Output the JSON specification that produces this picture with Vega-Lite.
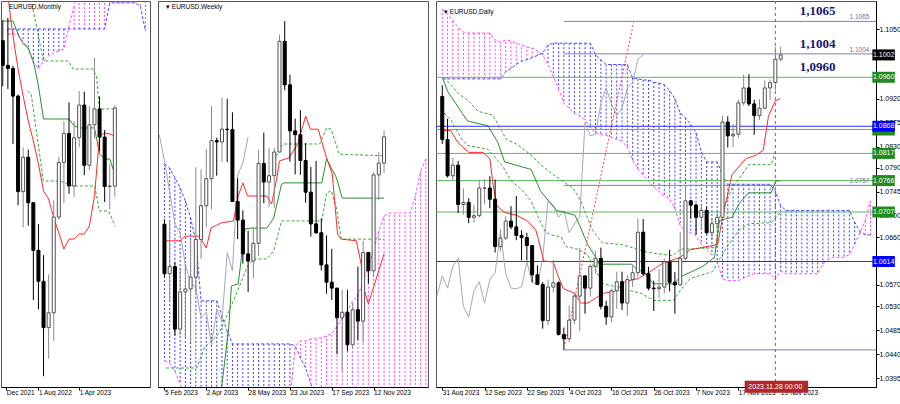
{
"$schema": "https://vega.github.io/schema/vega-lite/v6.json",
"padding": 0,
"bounds": "flush",
"spacing": 8,
"background": "white",
"config": {
  "view": {"stroke": "#555555", "strokeWidth": 1},
  "text": {"font": "Liberation Sans"},
  "axis": {"labelOverlap": false, "labelFlush": false, "labelBound": false, "grid": false}
},
"datasets": {
  "mc": [
    {"i":-1,"o":1.1370,"h":1.1482,"l":1.1121,"c":1.1235},
    {"i":0,"o":1.1235,"h":1.1495,"l":1.1106,"c":1.1218},
    {"i":1,"o":1.1218,"h":1.1233,"l":1.0806,"c":1.1067},
    {"i":2,"o":1.1067,"h":1.1076,"l":1.0471,"c":1.0545},
    {"i":3,"o":1.0545,"h":1.0787,"l":1.0349,"c":1.0733},
    {"i":4,"o":1.0733,"h":1.0774,"l":1.0359,"c":1.0484},
    {"i":5,"o":1.0484,"h":1.0488,"l":0.9952,"c":1.0224},
    {"i":6,"o":1.0224,"h":1.0369,"l":0.9901,"c":1.0055},
    {"i":7,"o":1.0055,"h":1.0198,"l":0.9536,"c":0.9802},
    {"i":8,"o":0.9802,"h":1.0094,"l":0.9632,"c":0.9883},
    {"i":9,"o":0.9883,"h":1.0497,"l":0.9730,"c":1.0406},
    {"i":10,"o":1.0406,"h":1.0736,"l":1.0393,"c":1.0705},
    {"i":11,"o":1.0705,"h":1.0929,"l":1.0482,"c":1.0863},
    {"i":12,"o":1.0863,"h":1.1033,"l":1.0533,"c":1.0576},
    {"i":13,"o":1.0576,"h":1.0930,"l":1.0516,"c":1.0839},
    {"i":14,"o":1.0839,"h":1.1095,"l":1.0788,"c":1.1018},
    {"i":15,"o":1.1018,"h":1.1092,"l":1.0635,"c":1.0689},
    {"i":16,"o":1.0689,"h":1.1012,"l":1.0662,"c":1.0910},
    {"i":17,"o":1.0910,"h":1.1276,"l":1.0834,"c":1.0997},
    {"i":18,"o":1.0997,"h":1.1065,"l":1.0766,"c":1.0843},
    {"i":19,"o":1.0843,"h":1.0882,"l":1.0488,"c":1.0573},
    {"i":20,"o":1.0573,"h":1.0695,"l":1.0448,"c":1.0575},
    {"i":21,"o":1.0575,"h":1.1017,"l":1.0517,"c":1.1002}
  ],
  "mcl": [
    {"i":0,"a":1.1434,"b":1.1406},{"i":1,"a":1.1434,"b":1.1406},{"i":2,"a":1.1434,"b":1.1395},{"i":3,"a":1.1434,"b":1.1368},
    {"i":4,"a":1.1434,"b":1.1324},{"i":5,"a":1.1434,"b":1.1248},{"i":6,"a":1.1434,"b":1.1215},{"i":7,"a":1.1434,"b":1.1259},
    {"i":8,"a":1.1434,"b":1.1286},{"i":9,"a":1.1434,"b":1.1303},{"i":10,"a":1.1434,"b":1.1314},{"i":11,"a":1.1434,"b":1.1324},
    {"i":12,"a":1.1434,"b":1.1450},{"i":13,"a":1.1434,"b":1.1559},{"i":14,"a":1.1434,"b":1.1669},{"i":15,"a":1.1434,"b":1.1669},
    {"i":16,"a":1.1434,"b":1.1669},{"i":17,"a":1.1434,"b":1.1669},{"i":18,"a":1.1434,"b":1.1669},{"i":19,"a":1.1434,"b":1.1669},
    {"i":20,"a":1.1576,"b":1.1669},{"i":21,"a":1.1576,"b":1.1669},{"i":22,"a":1.1576,"b":1.1669},{"i":23,"a":1.1576,"b":1.1669},
    {"i":24,"a":1.1576,"b":1.1669},{"i":25,"a":1.1576,"b":1.1669},{"i":26,"a":1.1559,"b":1.1669},{"i":27,"a":1.1423,"b":1.1669}
  ],
  "mda": [
    {"i":3.85,"v":1.1095},{"i":4.58,"v":1.1078},{"i":5.68,"v":1.0860},{"i":6.96,"v":1.0603},{"i":10.26,"v":1.0603},
    {"i":12.8,"v":1.0576},{"i":17.03,"v":1.0576},{"i":17.6,"v":1.0494},{"i":17.95,"v":1.0439},{"i":19.78,"v":1.0439},{"i":21.06,"v":1.0357}
  ],
  "mdb": [
    {"i":4.2,"v":1.1650},{"i":4.58,"v":1.1587},{"i":5.68,"v":1.1439},{"i":6.96,"v":1.1259},{"i":11.9,"v":1.1259},
    {"i":12.8,"v":1.1215},{"i":16.67,"v":1.1215},{"i":17.4,"v":1.1177},{"i":17.95,"v":1.0997},{"i":20.7,"v":1.0997}
  ],
  "mkj": [
    {"i":-1,"v":1.1477},{"i":0,"v":1.1477},{"i":1,"v":1.1477},{"i":2,"v":1.1406},{"i":3,"v":1.1352},{"i":4,"v":1.1330},
    {"i":5,"v":1.1259},{"i":6,"v":1.1122},{"i":7,"v":1.0942},{"i":8,"v":1.0942},{"i":9,"v":1.0942},{"i":10,"v":1.0942},
    {"i":11,"v":1.0942},{"i":12,"v":1.0942},{"i":13,"v":1.0904},{"i":14,"v":1.0893},{"i":15,"v":1.0893},{"i":16,"v":1.0893},
    {"i":17,"v":1.0893},{"i":18,"v":1.0751},{"i":19,"v":1.0723},{"i":20,"v":1.0723},{"i":21,"v":1.0641}
  ],
  "mtk": [
    {"i":-1,"v":1.1700},{"i":0,"v":1.1614},{"i":1,"v":1.1395},{"i":2,"v":1.1215},{"i":3,"v":1.1068},{"i":4,"v":1.0931},
    {"i":5,"v":1.0822},{"i":6,"v":1.0696},{"i":7,"v":1.0548},{"i":8,"v":1.0505},{"i":9,"v":1.0401},{"i":10,"v":1.0319},
    {"i":11,"v":1.0231},{"i":12,"v":1.0286},{"i":13,"v":1.0286},{"i":14,"v":1.0313},{"i":15,"v":1.0313},{"i":16,"v":1.0357},
    {"i":17,"v":1.0521},{"i":18,"v":1.0849},{"i":19,"v":1.0865},{"i":20,"v":1.0860},{"i":21,"v":1.0849}
  ],
  "wc": [
    {"i":0,"o":1.0795,"h":1.0807,"l":1.0669,"c":1.0678},
    {"i":1,"o":1.0678,"h":1.0805,"l":1.0613,"c":1.0695},
    {"i":2,"o":1.0695,"h":1.0705,"l":1.0532,"c":1.0547},
    {"i":3,"o":1.0547,"h":1.0692,"l":1.0533,"c":1.0635},
    {"i":4,"o":1.0635,"h":1.0701,"l":1.0525,"c":1.0642},
    {"i":5,"o":1.0642,"h":1.0760,"l":1.0516,"c":1.0670},
    {"i":6,"o":1.0670,"h":1.0930,"l":1.0634,"c":1.0759},
    {"i":7,"o":1.0759,"h":1.0925,"l":1.0713,"c":1.0839},
    {"i":8,"o":1.0839,"h":1.0973,"l":1.0788,"c":1.0903},
    {"i":9,"o":1.0903,"h":1.1075,"l":1.0831,"c":1.0993},
    {"i":10,"o":1.0993,"h":1.1000,"l":1.0910,"c":1.0990},
    {"i":11,"o":1.0990,"h":1.1095,"l":1.0943,"c":1.1020},
    {"i":12,"o":1.1020,"h":1.1092,"l":1.0942,"c":1.1019},
    {"i":13,"o":1.1019,"h":1.1060,"l":1.0848,"c":1.0849},
    {"i":14,"o":1.0849,"h":1.0904,"l":1.0760,"c":1.0805},
    {"i":15,"o":1.0805,"h":1.0828,"l":1.0702,"c":1.0725},
    {"i":16,"o":1.0725,"h":1.0780,"l":1.0635,"c":1.0708},
    {"i":17,"o":1.0708,"h":1.0787,"l":1.0667,"c":1.0750},
    {"i":18,"o":1.0750,"h":1.0971,"l":1.0720,"c":1.0939},
    {"i":19,"o":1.0939,"h":1.1012,"l":1.0845,"c":1.0895},
    {"i":20,"o":1.0895,"h":1.0976,"l":1.0835,"c":1.0910},
    {"i":21,"o":1.0910,"h":1.0976,"l":1.0834,"c":1.0966},
    {"i":22,"o":1.0966,"h":1.1244,"l":1.0965,"c":1.1228},
    {"i":23,"o":1.1228,"h":1.1276,"l":1.1112,"c":1.1125},
    {"i":24,"o":1.1125,"h":1.1149,"l":1.0943,"c":1.1016},
    {"i":25,"o":1.1016,"h":1.1045,"l":1.0913,"c":1.1007},
    {"i":26,"o":1.1007,"h":1.1065,"l":1.0912,"c":1.0946},
    {"i":27,"o":1.0946,"h":1.0987,"l":1.0846,"c":1.0871},
    {"i":28,"o":1.0871,"h":1.0931,"l":1.0766,"c":1.0796},
    {"i":29,"o":1.0796,"h":1.0945,"l":1.0772,"c":1.0775},
    {"i":30,"o":1.0775,"h":1.0809,"l":1.0686,"c":1.0699},
    {"i":31,"o":1.0699,"h":1.0769,"l":1.0631,"c":1.0658},
    {"i":32,"o":1.0658,"h":1.0737,"l":1.0616,"c":1.0644},
    {"i":33,"o":1.0644,"h":1.0645,"l":1.0488,"c":1.0574},
    {"i":34,"o":1.0574,"h":1.0640,"l":1.0448,"c":1.0587},
    {"i":35,"o":1.0587,"h":1.0640,"l":1.0495,"c":1.0510},
    {"i":36,"o":1.0510,"h":1.0608,"l":1.0500,"c":1.0593},
    {"i":37,"o":1.0593,"h":1.0695,"l":1.0521,"c":1.0566},
    {"i":38,"o":1.0566,"h":1.0756,"l":1.0516,"c":1.0728},
    {"i":39,"o":1.0728,"h":1.0730,"l":1.0655,"c":1.0685},
    {"i":40,"o":1.0685,"h":1.0918,"l":1.0675,"c":1.0912},
    {"i":41,"o":1.0912,"h":1.0966,"l":1.0852,"c":1.0940},
    {"i":42,"o":1.0940,"h":1.1017,"l":1.0917,"c":1.1002}
  ],
  "wcl": [
    {"i":0,"a":1.0938,"b":1.0472},{"i":1,"a":1.0928,"b":1.0467},{"i":2,"a":1.0905,"b":1.0448},{"i":3,"a":1.0881,"b":1.0417},
    {"i":4,"a":1.0850,"b":1.0389},{"i":5,"a":1.0810,"b":1.0377},{"i":6,"a":1.0756,"b":1.0377},{"i":7,"a":1.0614,"b":1.0377},
    {"i":8,"a":1.0614,"b":1.0377},{"i":9,"a":1.0614,"b":1.0377},{"i":10,"a":1.0614,"b":1.0377},{"i":11,"a":1.0578,"b":1.0377},
    {"i":12,"a":1.0543,"b":1.0377},{"i":13,"a":1.0512,"b":1.0377},{"i":14,"a":1.0512,"b":1.0377},{"i":15,"a":1.0512,"b":1.0377},
    {"i":16,"a":1.0512,"b":1.0377},{"i":17,"a":1.0512,"b":1.0377},{"i":18,"a":1.0512,"b":1.0377},{"i":19,"a":1.0512,"b":1.0377},
    {"i":20,"a":1.0512,"b":1.0377},{"i":21,"a":1.0512,"b":1.0377},{"i":22,"a":1.0512,"b":1.0377},{"i":23,"a":1.0512,"b":1.0377},
    {"i":24,"a":1.0512,"b":1.0377},{"i":25,"a":1.0507,"b":1.0507},{"i":26,"a":1.0479,"b":1.0519},{"i":27,"a":1.0455,"b":1.0519},
    {"i":28,"a":1.0417,"b":1.0524},{"i":29,"a":1.0377,"b":1.0526},{"i":30,"a":1.0353,"b":1.0526},{"i":31,"a":1.0330,"b":1.0531},
    {"i":32,"a":1.0330,"b":1.0536},{"i":33,"a":1.0330,"b":1.0554},{"i":34,"a":1.0330,"b":1.0573},{"i":35,"a":1.0330,"b":1.0590},
    {"i":36,"a":1.0330,"b":1.0614},{"i":37,"a":1.0330,"b":1.0625},{"i":38,"a":1.0330,"b":1.0661},{"i":39,"a":1.0330,"b":1.0696},
    {"i":40,"a":1.0330,"b":1.0732},{"i":41,"a":1.0330,"b":1.0779},{"i":42,"a":1.0330,"b":1.0815},{"i":43,"a":1.0330,"b":1.0822},
    {"i":44,"a":1.0330,"b":1.0822},{"i":45,"a":1.0330,"b":1.0822},{"i":46,"a":1.0330,"b":1.0822},{"i":47,"a":1.0330,"b":1.0822},
    {"i":48,"a":1.0330,"b":1.0862},{"i":49,"a":1.0330,"b":1.0921},{"i":50,"a":1.0330,"b":1.0950}
  ],
  "wchi": [
    {"i":-1,"v":1.1007},{"i":0,"v":1.0946},{"i":1,"v":1.0871},{"i":2,"v":1.0796},{"i":3,"v":1.0775},{"i":4,"v":1.0699},
    {"i":5,"v":1.0658},{"i":6,"v":1.0644},{"i":7,"v":1.0574},{"i":8,"v":1.0587},{"i":9,"v":1.0510},{"i":10,"v":1.0593},
    {"i":11,"v":1.0566},{"i":12,"v":1.0728},{"i":13,"v":1.0685},{"i":14,"v":1.0912},{"i":15,"v":1.0940},{"i":16,"v":1.1002}
  ],
  "wu": [
    {"i":21.1,"v":1.0945},{"i":22.0,"v":1.0976},{"i":22.9,"v":1.0985},{"i":29.7,"v":1.0985},{"i":31.0,"v":1.1023},
    {"i":31.9,"v":1.1020},{"i":33.4,"v":1.0961},{"i":42.0,"v":1.0957}
  ],
  "wl": [
    {"i":0.28,"v":1.0455},{"i":6.17,"v":1.0455},{"i":7.64,"v":1.0503},{"i":10.4,"v":1.0536},{"i":13.2,"v":1.0614},
    {"i":15.9,"v":1.0696},{"i":17.2,"v":1.0713},{"i":19.6,"v":1.0713},{"i":20.9,"v":1.0732},{"i":22.4,"v":1.0803},{"i":30.1,"v":1.0803},
    {"i":31.0,"v":1.0869},{"i":31.9,"v":1.0874},{"i":32.9,"v":1.0834},{"i":33.8,"v":1.0760},{"i":42.0,"v":1.0760}
  ],
  "wkj": [
    {"i":10.5,"v":1.0380},{"i":11.0,"v":1.0417},{"i":12.3,"v":1.0550},{"i":12.8,"v":1.0649},{"i":14.1,"v":1.0654},
    {"i":15.4,"v":1.0784},{"i":16.5,"v":1.0786},{"i":19.6,"v":1.0786},{"i":20.9,"v":1.0810},{"i":22.4,"v":1.0890},
    {"i":22.9,"v":1.0893},{"i":30.1,"v":1.0893},{"i":31.0,"v":1.0950},{"i":32.9,"v":1.0905},{"i":34.0,"v":1.0857},{"i":42.0,"v":1.0857}
  ],
  "wtk": [
    {"i":-0.3,"v":1.0756},{"i":3.04,"v":1.0756},{"i":3.96,"v":1.0767},{"i":6.7,"v":1.0767},{"i":8.0,"v":1.0739},
    {"i":8.9,"v":1.0786},{"i":10.8,"v":1.0798},{"i":13.2,"v":1.0803},{"i":14.1,"v":1.0862},{"i":15.0,"v":1.0893},
    {"i":15.9,"v":1.0862},{"i":19.6,"v":1.0862},{"i":20.5,"v":1.0843},{"i":21.5,"v":1.0905},{"i":22.0,"v":1.0945},
    {"i":23.8,"v":1.0952},{"i":25.5,"v":1.0985},{"i":27.0,"v":1.1051},{"i":27.9,"v":1.1020},{"i":29.4,"v":1.1020},
    {"i":31.0,"v":1.0952},{"i":32.1,"v":1.0914},{"i":33.1,"v":1.0772},{"i":33.8,"v":1.0760},{"i":36.7,"v":1.0756},
    {"i":37.7,"v":1.0696},{"i":38.0,"v":1.0649},{"i":39.0,"v":1.0607},{"i":42.0,"v":1.0725}
  ],
  "dc": [
    {"i":0,"o":1.0924,"h":1.0945,"l":1.0835,"c":1.0843},
    {"i":1,"o":1.0843,"h":1.0882,"l":1.0772,"c":1.0775},
    {"i":2,"o":1.0775,"h":1.0809,"l":1.0767,"c":1.0795},
    {"i":3,"o":1.0795,"h":1.0803,"l":1.0705,"c":1.0721},
    {"i":4,"o":1.0721,"h":1.0751,"l":1.0702,"c":1.0725},
    {"i":5,"o":1.0725,"h":1.0733,"l":1.0686,"c":1.0697},
    {"i":6,"o":1.0697,"h":1.0720,"l":1.0687,"c":1.0700},
    {"i":7,"o":1.0700,"h":1.0766,"l":1.0697,"c":1.0752},
    {"i":8,"o":1.0752,"h":1.0769,"l":1.0721,"c":1.0752},
    {"i":9,"o":1.0752,"h":1.0774,"l":1.0714,"c":1.0731},
    {"i":10,"o":1.0731,"h":1.0768,"l":1.0631,"c":1.0642},
    {"i":11,"o":1.0642,"h":1.0675,"l":1.0633,"c":1.0658},
    {"i":12,"o":1.0658,"h":1.0699,"l":1.0654,"c":1.0690},
    {"i":13,"o":1.0690,"h":1.0718,"l":1.0675,"c":1.0679},
    {"i":14,"o":1.0679,"h":1.0737,"l":1.0654,"c":1.0663},
    {"i":15,"o":1.0663,"h":1.0673,"l":1.0616,"c":1.0659},
    {"i":16,"o":1.0659,"h":1.0668,"l":1.0616,"c":1.0644},
    {"i":17,"o":1.0644,"h":1.0645,"l":1.0575,"c":1.0589},
    {"i":18,"o":1.0589,"h":1.0607,"l":1.0570,"c":1.0571},
    {"i":19,"o":1.0571,"h":1.0575,"l":1.0488,"c":1.0503},
    {"i":20,"o":1.0503,"h":1.0580,"l":1.0495,"c":1.0566},
    {"i":21,"o":1.0566,"h":1.0617,"l":1.0556,"c":1.0574},
    {"i":22,"o":1.0574,"h":1.0577,"l":1.0475,"c":1.0477},
    {"i":23,"o":1.0477,"h":1.0490,"l":1.0448,"c":1.0469},
    {"i":24,"o":1.0469,"h":1.0531,"l":1.0462,"c":1.0504},
    {"i":25,"o":1.0504,"h":1.0555,"l":1.0496,"c":1.0549},
    {"i":26,"o":1.0549,"h":1.0640,"l":1.0483,"c":1.0587},
    {"i":27,"o":1.0587,"h":1.0588,"l":1.0516,"c":1.0564},
    {"i":28,"o":1.0564,"h":1.0608,"l":1.0548,"c":1.0605},
    {"i":29,"o":1.0605,"h":1.0634,"l":1.0591,"c":1.0620},
    {"i":30,"o":1.0620,"h":1.0640,"l":1.0524,"c":1.0530},
    {"i":31,"o":1.0530,"h":1.0540,"l":1.0495,"c":1.0510},
    {"i":32,"o":1.0510,"h":1.0563,"l":1.0500,"c":1.0559},
    {"i":33,"o":1.0559,"h":1.0595,"l":1.0525,"c":1.0576},
    {"i":34,"o":1.0576,"h":1.0595,"l":1.0523,"c":1.0536},
    {"i":35,"o":1.0536,"h":1.0588,"l":1.0512,"c":1.0580},
    {"i":36,"o":1.0580,"h":1.0608,"l":1.0566,"c":1.0593},
    {"i":37,"o":1.0593,"h":1.0695,"l":1.0585,"c":1.0669},
    {"i":38,"o":1.0669,"h":1.0694,"l":1.0588,"c":1.0591},
    {"i":39,"o":1.0591,"h":1.0604,"l":1.0560,"c":1.0564},
    {"i":40,"o":1.0564,"h":1.0578,"l":1.0521,"c":1.0563},
    {"i":41,"o":1.0563,"h":1.0600,"l":1.0545,"c":1.0566},
    {"i":42,"o":1.0566,"h":1.0620,"l":1.0554,"c":1.0613},
    {"i":43,"o":1.0613,"h":1.0636,"l":1.0558,"c":1.0575},
    {"i":44,"o":1.0575,"h":1.0594,"l":1.0516,"c":1.0570},
    {"i":45,"o":1.0570,"h":1.0669,"l":1.0568,"c":1.0620},
    {"i":46,"o":1.0620,"h":1.0756,"l":1.0617,"c":1.0728},
    {"i":47,"o":1.0728,"h":1.0730,"l":1.0695,"c":1.0720},
    {"i":48,"o":1.0720,"h":1.0723,"l":1.0665,"c":1.0697},
    {"i":49,"o":1.0697,"h":1.0720,"l":1.0673,"c":1.0710},
    {"i":50,"o":1.0710,"h":1.0717,"l":1.0665,"c":1.0668},
    {"i":51,"o":1.0668,"h":1.0696,"l":1.0655,"c":1.0685},
    {"i":52,"o":1.0685,"h":1.0710,"l":1.0675,"c":1.0697},
    {"i":53,"o":1.0697,"h":1.0888,"l":1.0696,"c":1.0876},
    {"i":54,"o":1.0876,"h":1.0887,"l":1.0828,"c":1.0850},
    {"i":55,"o":1.0850,"h":1.0872,"l":1.0829,"c":1.0853},
    {"i":56,"o":1.0853,"h":1.0918,"l":1.0846,"c":1.0912},
    {"i":57,"o":1.0912,"h":1.0965,"l":1.0907,"c":1.0940},
    {"i":58,"o":1.0940,"h":1.0966,"l":1.0906,"c":1.0910},
    {"i":59,"o":1.0910,"h":1.0918,"l":1.0852,"c":1.0888},
    {"i":60,"o":1.0888,"h":1.0919,"l":1.0880,"c":1.0902},
    {"i":61,"o":1.0902,"h":1.0954,"l":1.0900,"c":1.0940},
    {"i":62,"o":1.0940,"h":1.0956,"l":1.0917,"c":1.0950},
    {"i":63,"o":1.0950,"h":1.1017,"l":1.0935,"c":1.0994},
    {"i":64,"o":1.0994,"h":1.1017,"l":1.0990,"c":1.1002}
  ],
  "dcl": [
    {"i":0,"a":1.0957,"b":1.1088},{"i":1,"a":1.0957,"b":1.1079},{"i":2,"a":1.0957,"b":1.1066},{"i":3,"a":1.0957,"b":1.1054},
    {"i":4,"a":1.0957,"b":1.1045},{"i":5,"a":1.0957,"b":1.1043},{"i":6,"a":1.0957,"b":1.1043},{"i":7,"a":1.0957,"b":1.1043},
    {"i":8,"a":1.0957,"b":1.1043},{"i":9,"a":1.0957,"b":1.1043},{"i":10,"a":1.0957,"b":1.1030},{"i":11,"a":1.0957,"b":1.1026},
    {"i":12,"a":1.0970,"b":1.1030},{"i":13,"a":1.0977,"b":1.1028},{"i":14,"a":1.0984,"b":1.1024},{"i":15,"a":1.0990,"b":1.1021},
    {"i":16,"a":1.0993,"b":1.1017},{"i":17,"a":1.0997,"b":1.1015},{"i":18,"a":1.1001,"b":1.1010},{"i":19,"a":1.1006,"b":1.1002},
    {"i":20,"a":1.1021,"b":1.0984},{"i":21,"a":1.1024,"b":1.0962},{"i":22,"a":1.1024,"b":1.0938},{"i":23,"a":1.1024,"b":1.0911},
    {"i":24,"a":1.1024,"b":1.0902},{"i":25,"a":1.1024,"b":1.0893},{"i":26,"a":1.1024,"b":1.0887},{"i":27,"a":1.1024,"b":1.0880},
    {"i":28,"a":1.1024,"b":1.0865},{"i":29,"a":1.1002,"b":1.0856},{"i":30,"a":1.0993,"b":1.0852},{"i":31,"a":1.0984,"b":1.0851},
    {"i":32,"a":1.0984,"b":1.0847},{"i":33,"a":1.0984,"b":1.0843},{"i":34,"a":1.0984,"b":1.0840},{"i":35,"a":1.0984,"b":1.0829},
    {"i":36,"a":1.0959,"b":1.0805},{"i":37,"a":1.0957,"b":1.0787},{"i":38,"a":1.0955,"b":1.0776},{"i":39,"a":1.0955,"b":1.0765},
    {"i":40,"a":1.0951,"b":1.0754},{"i":41,"a":1.0949,"b":1.0746},{"i":42,"a":1.0946,"b":1.0737},{"i":43,"a":1.0935,"b":1.0732},
    {"i":44,"a":1.0920,"b":1.0713},{"i":45,"a":1.0893,"b":1.0682},{"i":46,"a":1.0884,"b":1.0670},{"i":47,"a":1.0871,"b":1.0668},
    {"i":48,"a":1.0856,"b":1.0662},{"i":49,"a":1.0820,"b":1.0646},{"i":50,"a":1.0801,"b":1.0637},{"i":51,"a":1.0801,"b":1.0626},
    {"i":52,"a":1.0801,"b":1.0614},{"i":53,"a":1.0777,"b":1.0581},{"i":54,"a":1.0759,"b":1.0578},{"i":55,"a":1.0759,"b":1.0578},
    {"i":56,"a":1.0759,"b":1.0578},{"i":57,"a":1.0759,"b":1.0583},{"i":58,"a":1.0759,"b":1.0587},{"i":59,"a":1.0759,"b":1.0591},
    {"i":60,"a":1.0759,"b":1.0591},{"i":61,"a":1.0759,"b":1.0591},{"i":62,"a":1.0759,"b":1.0591},{"i":63,"a":1.0746,"b":1.0581},
    {"i":64,"a":1.0719,"b":1.0596},{"i":65,"a":1.0710,"b":1.0591},{"i":66,"a":1.0710,"b":1.0591},{"i":67,"a":1.0710,"b":1.0591},
    {"i":68,"a":1.0710,"b":1.0591},{"i":69,"a":1.0710,"b":1.0591},{"i":70,"a":1.0710,"b":1.0591},{"i":71,"a":1.0710,"b":1.0591},
    {"i":72,"a":1.0710,"b":1.0609},{"i":73,"a":1.0710,"b":1.0618},{"i":74,"a":1.0710,"b":1.0622},{"i":75,"a":1.0710,"b":1.0622},
    {"i":76,"a":1.0710,"b":1.0622},{"i":77,"a":1.0710,"b":1.0627},{"i":78,"a":1.0688,"b":1.0646},{"i":79,"a":1.0670,"b":1.0668},
    {"i":80,"a":1.0664,"b":1.0691},{"i":81,"a":1.0664,"b":1.0728}
  ],
  "dchi": [
    {"i":-1,"v":1.0549},{"i":0,"v":1.0587},{"i":1,"v":1.0564},{"i":2,"v":1.0605},{"i":3,"v":1.0620},{"i":4,"v":1.0530},
    {"i":5,"v":1.0510},{"i":6,"v":1.0559},{"i":7,"v":1.0576},{"i":8,"v":1.0536},{"i":9,"v":1.0580},{"i":10,"v":1.0593},
    {"i":11,"v":1.0669},{"i":12,"v":1.0591},{"i":13,"v":1.0564},{"i":14,"v":1.0563},{"i":15,"v":1.0566},{"i":16,"v":1.0613},
    {"i":17,"v":1.0575},{"i":18,"v":1.0570},{"i":19,"v":1.0620},{"i":20,"v":1.0728},{"i":21,"v":1.0720},{"i":22,"v":1.0697},
    {"i":23,"v":1.0710},{"i":24,"v":1.0668},{"i":25,"v":1.0685},{"i":26,"v":1.0697},{"i":27,"v":1.0876},{"i":28,"v":1.0850},
    {"i":29,"v":1.0853},{"i":30,"v":1.0912},{"i":31,"v":1.0940},{"i":32,"v":1.0910},{"i":33,"v":1.0888},{"i":34,"v":1.0902},
    {"i":35,"v":1.0940},{"i":36,"v":1.0950},{"i":37,"v":1.0994},{"i":38,"v":1.1002}
  ],
  "du": [
    {"i":0.31,"v":1.0960},{"i":1.98,"v":1.0942},{"i":3.09,"v":1.0929},{"i":4.94,"v":1.0916},{"i":6.78,"v":1.0896},
    {"i":9.56,"v":1.0889},{"i":11.22,"v":1.0860},{"i":12.14,"v":1.0843},{"i":14.18,"v":1.0834},{"i":16.77,"v":1.0814},
    {"i":18.61,"v":1.0796},{"i":21.02,"v":1.0777},{"i":24.71,"v":1.0752},{"i":26.19,"v":1.0728},{"i":28.41,"v":1.0673},
    {"i":30.26,"v":1.0649},{"i":33.96,"v":1.0646},{"i":38.95,"v":1.0631},{"i":43.57,"v":1.0625},{"i":45.05,"v":1.0637},
    {"i":51.89,"v":1.0640},{"i":52.44,"v":1.0697},{"i":54.84,"v":1.0752},{"i":56.69,"v":1.0777},{"i":57.98,"v":1.0796},
    {"i":62.24,"v":1.0796},{"i":63.16,"v":1.0825}
  ],
  "dl": [
    {"i":0.31,"v":1.0893},{"i":1.61,"v":1.0880},{"i":3.46,"v":1.0847},{"i":4.75,"v":1.0832},{"i":8.63,"v":1.0825},
    {"i":9.93,"v":1.0810},{"i":11.22,"v":1.0796},{"i":13.07,"v":1.0765},{"i":14.92,"v":1.0750},{"i":16.77,"v":1.0728},
    {"i":18.25,"v":1.0695},{"i":19.54,"v":1.0669},{"i":20.65,"v":1.0664},{"i":22.5,"v":1.0660},{"i":23.42,"v":1.0642},
    {"i":25.64,"v":1.0637},{"i":27.49,"v":1.0627},{"i":30.26,"v":1.0573},{"i":37.65,"v":1.0554},{"i":40.05,"v":1.0541},
    {"i":43.75,"v":1.0541},{"i":45.05,"v":1.0560},{"i":46.9,"v":1.0582},{"i":51.15,"v":1.0595},{"i":52.44,"v":1.0618},
    {"i":54.28,"v":1.0648},{"i":56.13,"v":1.0673},{"i":57.98,"v":1.0685},{"i":62.24,"v":1.0687},{"i":63.9,"v":1.0706}
  ],
  "dkj": [
    {"i":0.13,"v":1.0957},{"i":1.05,"v":1.0933},{"i":2.53,"v":1.0911},{"i":4.75,"v":1.0878},{"i":8.63,"v":1.0869},
    {"i":10.5,"v":1.0838},{"i":11.8,"v":1.0801},{"i":16.8,"v":1.0787},{"i":18.6,"v":1.0746},{"i":20.1,"v":1.0728},
    {"i":21.6,"v":1.0710},{"i":25.1,"v":1.0701},{"i":26.2,"v":1.0677},{"i":27.5,"v":1.0646},{"i":29.0,"v":1.0622},
    {"i":29.7,"v":1.0609},{"i":35.8,"v":1.0609},{"i":36.7,"v":1.0600},{"i":38.2,"v":1.0594},{"i":39.9,"v":1.0572},
    {"i":43.8,"v":1.0572},{"i":45.0,"v":1.0585},{"i":47.4,"v":1.0596},{"i":49.3,"v":1.0605},{"i":51.5,"v":1.0622},
    {"i":52.4,"v":1.0691},{"i":54.8,"v":1.0697},{"i":56.1,"v":1.0722},{"i":57.9,"v":1.0743},{"i":62.2,"v":1.0743},
    {"i":63.1,"v":1.0765},{"i":64,"v":1.0766}
  ],
  "dtk": [
    {"i":0.1,"v":1.0860},{"i":1.6,"v":1.0860},{"i":2.9,"v":1.0838},{"i":5.0,"v":1.0819},{"i":7.7,"v":1.0819},
    {"i":9.0,"v":1.0807},{"i":9.6,"v":1.0759},{"i":10.3,"v":1.0719},{"i":11.8,"v":1.0706},{"i":14.0,"v":1.0701},
    {"i":16.0,"v":1.0691},{"i":17.7,"v":1.0673},{"i":18.2,"v":1.0655},{"i":19.2,"v":1.0615},{"i":21.0,"v":1.0613},
    {"i":21.9,"v":1.0587},{"i":22.9,"v":1.0563},{"i":25.1,"v":1.0554},{"i":26.2,"v":1.0536},{"i":27.5,"v":1.0536},
    {"i":29.0,"v":1.0545},{"i":30.3,"v":1.0554},{"i":32.7,"v":1.0558},{"i":34.5,"v":1.0576},{"i":37.1,"v":1.0582},
    {"i":39.5,"v":1.0596},{"i":41.4,"v":1.0609},{"i":45.0,"v":1.0622},{"i":46.9,"v":1.0636},{"i":52.1,"v":1.0646},
    {"i":53.0,"v":1.0697},{"i":54.8,"v":1.0777},{"i":57.4,"v":1.0807},{"i":59.4,"v":1.0814},{"i":60.7,"v":1.0823},
    {"i":61.7,"v":1.0887},{"i":63.0,"v":1.0916},{"i":63.9,"v":1.0920}
  ],
  "dlev": [
    {"p":1.0960,"k":"green"},{"p":1.0862,"k":"green"},{"p":1.0868,"k":"blue"},{"p":1.0817,"k":"green"},
    {"p":1.0766,"k":"green"},{"p":1.0707,"k":"green"},{"p":1.0614,"k":"blue"}
  ],
  "dray": [
    {"p":1.1065,"i":23},{"p":1.1004,"i":23},{"p":1.0757,"i":23},{"p":1.0448,"i":23}
  ],
  "dtr": [
    {"i":23.2,"v":1.0459},{"i":36.2,"v":1.1063}
  ],
  "dbig": [
    {"t":"1,1065","p":1.1065},{"t":"1,1004","p":1.1004},{"t":"1,0960","p":1.0960}
  ],
  "dsmall": [
    {"t":"1.1065","p":1.1065},{"t":"1.1004","p":1.1004},{"t":"1.0757","p":1.0757}
  ],
  "dbox": [
    {"t":"1.1002","p":1.1002,"k":"black"},{"t":"1.0960","p":1.0960,"k":"green"},{"t":"","p":1.0861,"k":"green"},
    {"t":"1.0868","p":1.0868,"k":"blue"},{"t":"1.0817","p":1.0817,"k":"green"},{"t":"1.0766","p":1.0766,"k":"green"},
    {"t":"1.0707","p":1.0707,"k":"green"},{"t":"1.0614","p":1.0614,"k":"blue"}
  ],
  "dcur": [
    {"i":63,"t":"2023.11.28 00:00"}
  ],
  "mtitle": [{"t":"EURUSD,Monthly"}],
  "wtitle": [{"t":"▾ EURUSD,Weekly"}],
  "dtitle": [{"t":"▾ EURUSD,Daily"}]
},
"hconcat": [
  {
    "width": 149, "height": 386,
    "resolve": {"axis": {"x": "independent", "y": "independent"}},
    "layer": [
      {"data": {"name": "mcl"}, "mark": {"type": "rule", "strokeDash": [2, 2], "strokeWidth": 1, "clip": true},
       "encoding": {
         "x": {"field": "i", "type": "quantitative", "scale": {"domain": [-0.37, 26.92], "nice": false, "zero": false}, "axis": null},
         "y": {"field": "a", "type": "quantitative", "scale": {"domain": [0.94774, 1.15867], "nice": false, "zero": false}, "axis": null},
         "y2": {"field": "b"},
         "color": {"condition": {"test": "datum.a > datum.b", "value": "#3c3cff"}, "value": "#ff3cff"}}},
      {"data": {"name": "mcl"}, "mark": {"type": "line", "strokeDash": [3, 2], "strokeWidth": 1, "color": "#4a4aff", "clip": true},
       "encoding": {
         "x": {"field": "i", "type": "quantitative", "scale": {"domain": [-0.37, 26.92], "nice": false, "zero": false}, "axis": null},
         "y": {"field": "a", "type": "quantitative", "scale": {"domain": [0.94774, 1.15867], "nice": false, "zero": false}, "axis": null}}},
      {"data": {"name": "mcl"}, "mark": {"type": "line", "strokeDash": [3, 2], "strokeWidth": 1, "color": "#ff4aff", "clip": true},
       "encoding": {
         "x": {"field": "i", "type": "quantitative", "scale": {"domain": [-0.37, 26.92], "nice": false, "zero": false}, "axis": null},
         "y": {"field": "b", "type": "quantitative", "scale": {"domain": [0.94774, 1.15867], "nice": false, "zero": false}, "axis": null}}},
      {"data": {"name": "mda"}, "mark": {"type": "line", "strokeDash": [3, 2], "strokeWidth": 1, "color": "#3aa83a", "clip": true},
       "encoding": {
         "x": {"field": "i", "type": "quantitative", "scale": {"domain": [-0.37, 26.92], "nice": false, "zero": false}, "axis": null},
         "y": {"field": "v", "type": "quantitative", "scale": {"domain": [0.94774, 1.15867], "nice": false, "zero": false}, "axis": null}}},
      {"data": {"name": "mdb"}, "mark": {"type": "line", "strokeDash": [3, 2], "strokeWidth": 1, "color": "#3aa83a", "clip": true},
       "encoding": {
         "x": {"field": "i", "type": "quantitative", "scale": {"domain": [-0.37, 26.92], "nice": false, "zero": false}, "axis": null},
         "y": {"field": "v", "type": "quantitative", "scale": {"domain": [0.94774, 1.15867], "nice": false, "zero": false}, "axis": null}}},
      {"data": {"name": "mkj"}, "mark": {"type": "line", "strokeWidth": 1, "color": "#2a8f2a", "clip": true},
       "encoding": {
         "x": {"field": "i", "type": "quantitative", "scale": {"domain": [-0.37, 26.92], "nice": false, "zero": false}, "axis": null},
         "y": {"field": "v", "type": "quantitative", "scale": {"domain": [0.94774, 1.15867], "nice": false, "zero": false}, "axis": null}}},
      {"data": {"name": "mtk"}, "mark": {"type": "line", "strokeWidth": 1, "color": "#ff2a2a", "clip": true},
       "encoding": {
         "x": {"field": "i", "type": "quantitative", "scale": {"domain": [-0.37, 26.92], "nice": false, "zero": false}, "axis": null},
         "y": {"field": "v", "type": "quantitative", "scale": {"domain": [0.94774, 1.15867], "nice": false, "zero": false}, "axis": null}}},
      {"data": {"name": "mc"}, "mark": {"type": "rule", "strokeWidth": 1, "clip": true},
       "encoding": {
         "x": {"field": "i", "type": "quantitative", "scale": {"domain": [-0.37, 26.92], "nice": false, "zero": false}, "axis": null},
         "y": {"field": "l", "type": "quantitative", "scale": {"domain": [0.94774, 1.15867], "nice": false, "zero": false}, "axis": null},
         "y2": {"field": "h"},
         "color": {"condition": {"test": "datum.c >= datum.o", "value": "#8a8a8a"}, "value": "#000000"}}},
      {"data": {"name": "mc"}, "mark": {"type": "bar", "orient": "vertical", "size": 3, "strokeWidth": 1, "clip": true},
       "encoding": {
         "x": {"field": "i", "type": "quantitative", "scale": {"domain": [-0.37, 26.92], "nice": false, "zero": false},
               "axis": {"values": [-0.3, 6, 14], "labelExpr": "datum.value < 0 ? 'Dec 2021' : datum.value == 6 ? '1 Aug 2022' : '1 Apr 2023'",
                        "labelAlign": "left", "labelBaseline": "top", "labelPadding": -1, "labelFontSize": 6.5, "labelFont": "Liberation Sans", "labelColor": "#000000",
                        "tickSize": 3, "tickColor": "#000000", "domainColor": "#000000", "grid": false, "title": null,
                        "labelOverlap": false, "labelFlush": false, "labelBound": false}},
         "y": {"field": "o", "type": "quantitative", "scale": {"domain": [0.94774, 1.15867], "nice": false, "zero": false}, "axis": null},
         "y2": {"field": "c"},
         "fill": {"condition": {"test": "datum.c >= datum.o", "value": "#ffffff"}, "value": "#000000"},
         "stroke": {"condition": {"test": "datum.c >= datum.o", "value": "#505050"}, "value": "#000000"}}},
      {"data": {"name": "mtitle"}, "mark": {"type": "text", "fontSize": 6.5, "color": "#000000", "align": "left", "baseline": "top", "dx": 3, "dy": 3},
       "encoding": {
         "x": {"datum": -0.37, "type": "quantitative", "scale": {"domain": [-0.37, 26.92], "nice": false, "zero": false}, "axis": null},
         "y": {"datum": 1.15867, "type": "quantitative", "scale": {"domain": [0.94774, 1.15867], "nice": false, "zero": false}, "axis": null},
         "text": {"field": "t"}}}
    ]
  },
  {
    "width": 270, "height": 386,
    "resolve": {"axis": {"x": "independent", "y": "independent"}},
    "layer": [
      {"data": {"name": "wcl"}, "mark": {"type": "rule", "strokeDash": [2, 2], "strokeWidth": 1, "clip": true},
       "encoding": {
         "x": {"field": "i", "type": "quantitative", "scale": {"domain": [-0.28, 49.45], "nice": false, "zero": false}, "axis": null},
         "y": {"field": "a", "type": "quantitative", "scale": {"domain": [1.04101, 1.13233], "nice": false, "zero": false}, "axis": null},
         "y2": {"field": "b"},
         "color": {"condition": {"test": "datum.a > datum.b", "value": "#3c3cff"}, "value": "#ff3cff"}}},
      {"data": {"name": "wcl"}, "mark": {"type": "line", "strokeDash": [3, 2], "strokeWidth": 1, "color": "#4a4aff", "clip": true},
       "encoding": {
         "x": {"field": "i", "type": "quantitative", "scale": {"domain": [-0.28, 49.45], "nice": false, "zero": false}, "axis": null},
         "y": {"field": "a", "type": "quantitative", "scale": {"domain": [1.04101, 1.13233], "nice": false, "zero": false}, "axis": null}}},
      {"data": {"name": "wcl"}, "mark": {"type": "line", "strokeDash": [3, 2], "strokeWidth": 1, "color": "#ff4aff", "clip": true},
       "encoding": {
         "x": {"field": "i", "type": "quantitative", "scale": {"domain": [-0.28, 49.45], "nice": false, "zero": false}, "axis": null},
         "y": {"field": "b", "type": "quantitative", "scale": {"domain": [1.04101, 1.13233], "nice": false, "zero": false}, "axis": null}}},
      {"data": {"name": "wchi"}, "mark": {"type": "line", "strokeWidth": 1, "color": "#a4a8bc", "clip": true},
       "encoding": {
         "x": {"field": "i", "type": "quantitative", "scale": {"domain": [-0.28, 49.45], "nice": false, "zero": false}, "axis": null},
         "y": {"field": "v", "type": "quantitative", "scale": {"domain": [1.04101, 1.13233], "nice": false, "zero": false}, "axis": null}}},
      {"data": {"name": "wu"}, "mark": {"type": "line", "strokeDash": [3, 2], "strokeWidth": 1, "color": "#3aa83a", "clip": true},
       "encoding": {
         "x": {"field": "i", "type": "quantitative", "scale": {"domain": [-0.28, 49.45], "nice": false, "zero": false}, "axis": null},
         "y": {"field": "v", "type": "quantitative", "scale": {"domain": [1.04101, 1.13233], "nice": false, "zero": false}, "axis": null}}},
      {"data": {"name": "wl"}, "mark": {"type": "line", "strokeDash": [3, 2], "strokeWidth": 1, "color": "#3aa83a", "clip": true},
       "encoding": {
         "x": {"field": "i", "type": "quantitative", "scale": {"domain": [-0.28, 49.45], "nice": false, "zero": false}, "axis": null},
         "y": {"field": "v", "type": "quantitative", "scale": {"domain": [1.04101, 1.13233], "nice": false, "zero": false}, "axis": null}}},
      {"data": {"name": "wkj"}, "mark": {"type": "line", "strokeWidth": 1, "color": "#2a8f2a", "clip": true},
       "encoding": {
         "x": {"field": "i", "type": "quantitative", "scale": {"domain": [-0.28, 49.45], "nice": false, "zero": false}, "axis": null},
         "y": {"field": "v", "type": "quantitative", "scale": {"domain": [1.04101, 1.13233], "nice": false, "zero": false}, "axis": null}}},
      {"data": {"name": "wtk"}, "mark": {"type": "line", "strokeWidth": 1, "color": "#ff2a2a", "clip": true},
       "encoding": {
         "x": {"field": "i", "type": "quantitative", "scale": {"domain": [-0.28, 49.45], "nice": false, "zero": false}, "axis": null},
         "y": {"field": "v", "type": "quantitative", "scale": {"domain": [1.04101, 1.13233], "nice": false, "zero": false}, "axis": null}}},
      {"data": {"name": "wc"}, "mark": {"type": "rule", "strokeWidth": 1, "clip": true},
       "encoding": {
         "x": {"field": "i", "type": "quantitative", "scale": {"domain": [-0.28, 49.45], "nice": false, "zero": false}, "axis": null},
         "y": {"field": "l", "type": "quantitative", "scale": {"domain": [1.04101, 1.13233], "nice": false, "zero": false}, "axis": null},
         "y2": {"field": "h"},
         "color": {"condition": {"test": "datum.c >= datum.o", "value": "#8a8a8a"}, "value": "#000000"}}},
      {"data": {"name": "wc"}, "mark": {"type": "bar", "orient": "vertical", "size": 3, "strokeWidth": 1, "clip": true},
       "encoding": {
         "x": {"field": "i", "type": "quantitative", "scale": {"domain": [-0.28, 49.45], "nice": false, "zero": false},
               "axis": {"values": [0, 8, 16, 24, 32, 40],
                        "labelExpr": "datum.value == 0 ? '5 Feb 2023' : datum.value == 8 ? '2 Apr 2023' : datum.value == 16 ? '28 May 2023' : datum.value == 24 ? '23 Jul 2023' : datum.value == 32 ? '17 Sep 2023' : '12 Nov 2023'",
                        "labelAlign": "left", "labelBaseline": "top", "labelPadding": -1, "labelFontSize": 6.5, "labelFont": "Liberation Sans", "labelColor": "#000000",
                        "tickSize": 3, "tickColor": "#000000", "domainColor": "#000000", "grid": false, "title": null,
                        "labelOverlap": false, "labelFlush": false, "labelBound": false}},
         "y": {"field": "o", "type": "quantitative", "scale": {"domain": [1.04101, 1.13233], "nice": false, "zero": false}, "axis": null},
         "y2": {"field": "c"},
         "fill": {"condition": {"test": "datum.c >= datum.o", "value": "#ffffff"}, "value": "#000000"},
         "stroke": {"condition": {"test": "datum.c >= datum.o", "value": "#505050"}, "value": "#000000"}}},
      {"data": {"name": "wtitle"}, "mark": {"type": "text", "fontSize": 6.5, "color": "#000000", "align": "left", "baseline": "top", "dx": 3, "dy": 3},
       "encoding": {
         "x": {"datum": -0.28, "type": "quantitative", "scale": {"domain": [-0.28, 49.45], "nice": false, "zero": false}, "axis": null},
         "y": {"datum": 1.13233, "type": "quantitative", "scale": {"domain": [1.04101, 1.13233], "nice": false, "zero": false}, "axis": null},
         "text": {"field": "t"}}}
    ]
  },
  {
    "width": 440, "height": 386,
    "resolve": {"axis": {"x": "independent", "y": "independent"}},
    "layer": [
      {"data": {"name": "dcl"}, "mark": {"type": "rule", "strokeDash": [2, 2], "strokeWidth": 1, "clip": true},
       "encoding": {
         "x": {"field": "i", "type": "quantitative", "scale": {"domain": [-0.24, 81.09], "nice": false, "zero": false}, "axis": null},
         "y": {"field": "a", "type": "quantitative", "scale": {"domain": [1.03877, 1.10939], "nice": false, "zero": false}, "axis": null},
         "y2": {"field": "b"},
         "color": {"condition": {"test": "datum.a > datum.b", "value": "#3c3cff"}, "value": "#ff3cff"}}},
      {"data": {"name": "dcl"}, "mark": {"type": "line", "strokeDash": [3, 2], "strokeWidth": 1, "color": "#4a4aff", "clip": true},
       "encoding": {
         "x": {"field": "i", "type": "quantitative", "scale": {"domain": [-0.24, 81.09], "nice": false, "zero": false}, "axis": null},
         "y": {"field": "a", "type": "quantitative", "scale": {"domain": [1.03877, 1.10939], "nice": false, "zero": false}, "axis": null}}},
      {"data": {"name": "dcl"}, "mark": {"type": "line", "strokeDash": [3, 2], "strokeWidth": 1, "color": "#ff4aff", "clip": true},
       "encoding": {
         "x": {"field": "i", "type": "quantitative", "scale": {"domain": [-0.24, 81.09], "nice": false, "zero": false}, "axis": null},
         "y": {"field": "b", "type": "quantitative", "scale": {"domain": [1.03877, 1.10939], "nice": false, "zero": false}, "axis": null}}},
      {"data": {"name": "dlev"}, "mark": {"type": "rule", "strokeWidth": 1},
       "encoding": {
         "y": {"field": "p", "type": "quantitative", "scale": {"domain": [1.03877, 1.10939], "nice": false, "zero": false}, "axis": null},
         "stroke": {"field": "k", "type": "nominal", "scale": {"domain": ["green", "blue"], "range": ["#5cb85c", "#2b2bff"]}, "legend": null}}},
      {"data": {"name": "dray"}, "mark": {"type": "rule", "strokeWidth": 1, "color": "#7d7db8"},
       "encoding": {
         "x": {"field": "i", "type": "quantitative", "scale": {"domain": [-0.24, 81.09], "nice": false, "zero": false}, "axis": null},
         "x2": {"value": "width"},
         "y": {"field": "p", "type": "quantitative", "scale": {"domain": [1.03877, 1.10939], "nice": false, "zero": false}, "axis": null}}},
      {"data": {"name": "dchi"}, "mark": {"type": "line", "strokeWidth": 1, "color": "#a4a8bc", "clip": true},
       "encoding": {
         "x": {"field": "i", "type": "quantitative", "scale": {"domain": [-0.24, 81.09], "nice": false, "zero": false}, "axis": null},
         "y": {"field": "v", "type": "quantitative", "scale": {"domain": [1.03877, 1.10939], "nice": false, "zero": false}, "axis": null}}},
      {"data": {"name": "du"}, "mark": {"type": "line", "strokeDash": [3, 2], "strokeWidth": 1, "color": "#3aa83a", "clip": true},
       "encoding": {
         "x": {"field": "i", "type": "quantitative", "scale": {"domain": [-0.24, 81.09], "nice": false, "zero": false}, "axis": null},
         "y": {"field": "v", "type": "quantitative", "scale": {"domain": [1.03877, 1.10939], "nice": false, "zero": false}, "axis": null}}},
      {"data": {"name": "dl"}, "mark": {"type": "line", "strokeDash": [3, 2], "strokeWidth": 1, "color": "#3aa83a", "clip": true},
       "encoding": {
         "x": {"field": "i", "type": "quantitative", "scale": {"domain": [-0.24, 81.09], "nice": false, "zero": false}, "axis": null},
         "y": {"field": "v", "type": "quantitative", "scale": {"domain": [1.03877, 1.10939], "nice": false, "zero": false}, "axis": null}}},
      {"data": {"name": "dkj"}, "mark": {"type": "line", "strokeWidth": 1, "color": "#2a8f2a", "clip": true},
       "encoding": {
         "x": {"field": "i", "type": "quantitative", "scale": {"domain": [-0.24, 81.09], "nice": false, "zero": false}, "axis": null},
         "y": {"field": "v", "type": "quantitative", "scale": {"domain": [1.03877, 1.10939], "nice": false, "zero": false}, "axis": null}}},
      {"data": {"name": "dtk"}, "mark": {"type": "line", "strokeWidth": 1, "color": "#ff2a2a", "clip": true},
       "encoding": {
         "x": {"field": "i", "type": "quantitative", "scale": {"domain": [-0.24, 81.09], "nice": false, "zero": false}, "axis": null},
         "y": {"field": "v", "type": "quantitative", "scale": {"domain": [1.03877, 1.10939], "nice": false, "zero": false}, "axis": null}}},
      {"data": {"name": "dtr"}, "mark": {"type": "line", "strokeDash": [2, 2], "strokeWidth": 1, "color": "#ff3a3a", "clip": true},
       "encoding": {
         "x": {"field": "i", "type": "quantitative", "scale": {"domain": [-0.24, 81.09], "nice": false, "zero": false}, "axis": null},
         "y": {"field": "v", "type": "quantitative", "scale": {"domain": [1.03877, 1.10939], "nice": false, "zero": false}, "axis": null}}},
      {"data": {"name": "dcur"}, "mark": {"type": "rule", "strokeDash": [3, 3], "strokeWidth": 1, "color": "#e03c3c"},
       "encoding": {
         "x": {"field": "i", "type": "quantitative", "scale": {"domain": [-0.24, 81.09], "nice": false, "zero": false}, "axis": null}}},
      {"data": {"name": "dc"}, "mark": {"type": "rule", "strokeWidth": 1, "clip": true},
       "encoding": {
         "x": {"field": "i", "type": "quantitative", "scale": {"domain": [-0.24, 81.09], "nice": false, "zero": false}, "axis": null},
         "y": {"field": "l", "type": "quantitative", "scale": {"domain": [1.03877, 1.10939], "nice": false, "zero": false}, "axis": null},
         "y2": {"field": "h"},
         "color": {"condition": {"test": "datum.c >= datum.o", "value": "#8a8a8a"}, "value": "#000000"}}},
      {"data": {"name": "dc"}, "mark": {"type": "bar", "orient": "vertical", "size": 3, "strokeWidth": 1, "clip": true},
       "encoding": {
         "x": {"field": "i", "type": "quantitative", "scale": {"domain": [-0.24, 81.09], "nice": false, "zero": false},
               "axis": {"values": [0, 8, 16, 24, 32, 40, 48, 56, 64],
                        "labelExpr": "datum.value == 0 ? '31 Aug 2023' : datum.value == 8 ? '12 Sep 2023' : datum.value == 16 ? '22 Sep 2023' : datum.value == 24 ? '4 Oct 2023' : datum.value == 32 ? '16 Oct 2023' : datum.value == 40 ? '26 Oct 2023' : datum.value == 48 ? '7 Nov 2023' : datum.value == 56 ? '17 Nov 2023' : '29 Nov 2023'",
                        "labelAlign": "left", "labelBaseline": "top", "labelPadding": -1, "labelFontSize": 6.5, "labelFont": "Liberation Sans", "labelColor": "#000000",
                        "tickSize": 3, "tickColor": "#000000", "domainColor": "#000000", "grid": false, "title": null,
                        "labelOverlap": false, "labelFlush": false, "labelBound": false}},
         "y": {"field": "o", "type": "quantitative", "scale": {"domain": [1.03877, 1.10939], "nice": false, "zero": false},
               "axis": {"orient": "right", "values": [1.0395, 1.044, 1.0485, 1.053, 1.057, 1.066, 1.07, 1.0745, 1.079, 1.083, 1.0875, 1.092, 1.105],
                        "labelExpr": "format(datum.value, '.4f')", "labelFontSize": 7, "labelFont": "Liberation Sans", "labelColor": "#000000", "labelPadding": 0,
                        "tickSize": 3, "tickColor": "#000000", "domainColor": "#000000", "grid": false, "title": null,
                        "labelOverlap": false, "labelFlush": false, "labelBound": false}},
         "y2": {"field": "c"},
         "fill": {"condition": {"test": "datum.c >= datum.o", "value": "#ffffff"}, "value": "#000000"},
         "stroke": {"condition": {"test": "datum.c >= datum.o", "value": "#505050"}, "value": "#000000"}}},
      {"data": {"name": "dbig"}, "mark": {"type": "text", "font": "Liberation Serif", "fontWeight": "bold", "fontSize": 13, "color": "#14146e", "align": "center", "baseline": "bottom", "dy": -3},
       "encoding": {
         "x": {"datum": 71.0, "type": "quantitative", "scale": {"domain": [-0.24, 81.09], "nice": false, "zero": false}, "axis": null},
         "y": {"field": "p", "type": "quantitative", "scale": {"domain": [1.03877, 1.10939], "nice": false, "zero": false}, "axis": null},
         "text": {"field": "t"}}},
      {"data": {"name": "dsmall"}, "mark": {"type": "text", "fontSize": 6.5, "color": "#7070a8", "align": "right", "baseline": "bottom", "dy": -1},
       "encoding": {
         "x": {"datum": 80.8, "type": "quantitative", "scale": {"domain": [-0.24, 81.09], "nice": false, "zero": false}, "axis": null},
         "y": {"field": "p", "type": "quantitative", "scale": {"domain": [1.03877, 1.10939], "nice": false, "zero": false}, "axis": null},
         "text": {"field": "t"}}},
      {"data": {"name": "dbox"}, "mark": {"type": "bar", "orient": "horizontal", "size": 11, "clip": false},
       "encoding": {
         "x": {"datum": 81.35, "type": "quantitative", "scale": {"domain": [-0.24, 81.09], "nice": false, "zero": false}, "axis": null},
         "x2": {"datum": 85.6},
         "y": {"field": "p", "type": "quantitative", "scale": {"domain": [1.03877, 1.10939], "nice": false, "zero": false}, "axis": null},
         "fill": {"field": "k", "type": "nominal", "scale": {"domain": ["black", "green", "blue"], "range": ["#000000", "#1e8c1e", "#0000ff"]}, "legend": null}}},
      {"data": {"name": "dbox"}, "mark": {"type": "text", "fontSize": 7, "color": "#ffffff", "align": "center", "baseline": "middle", "clip": false},
       "encoding": {
         "x": {"datum": 83.48, "type": "quantitative", "scale": {"domain": [-0.24, 81.09], "nice": false, "zero": false}, "axis": null},
         "y": {"field": "p", "type": "quantitative", "scale": {"domain": [1.03877, 1.10939], "nice": false, "zero": false}, "axis": null},
         "text": {"field": "t"}}},
      {"data": {"name": "dcur"}, "mark": {"type": "bar", "orient": "horizontal", "size": 12, "color": "#b3262a", "clip": false},
       "encoding": {
         "x": {"datum": 57.2, "type": "quantitative", "scale": {"domain": [-0.24, 81.09], "nice": false, "zero": false}, "axis": null},
         "x2": {"datum": 69.2},
         "y": {"datum": 1.03786, "type": "quantitative", "scale": {"domain": [1.03877, 1.10939], "nice": false, "zero": false}, "axis": null}}},
      {"data": {"name": "dcur"}, "mark": {"type": "text", "fontSize": 7, "color": "#ffffff", "align": "center", "baseline": "middle", "clip": false},
       "encoding": {
         "x": {"field": "i", "type": "quantitative", "scale": {"domain": [-0.24, 81.09], "nice": false, "zero": false}, "axis": null},
         "y": {"datum": 1.03786, "type": "quantitative", "scale": {"domain": [1.03877, 1.10939], "nice": false, "zero": false}, "axis": null},
         "text": {"field": "t"}}},
      {"data": {"name": "dtitle"}, "mark": {"type": "text", "fontSize": 6.5, "color": "#000000", "align": "left", "baseline": "top", "dx": 3, "dy": 3},
       "encoding": {
         "x": {"datum": -0.24, "type": "quantitative", "scale": {"domain": [-0.24, 81.09], "nice": false, "zero": false}, "axis": null},
         "y": {"datum": 1.10939, "type": "quantitative", "scale": {"domain": [1.03877, 1.10939], "nice": false, "zero": false}, "axis": null},
         "text": {"field": "t"}}}
    ]
  }
]
}
